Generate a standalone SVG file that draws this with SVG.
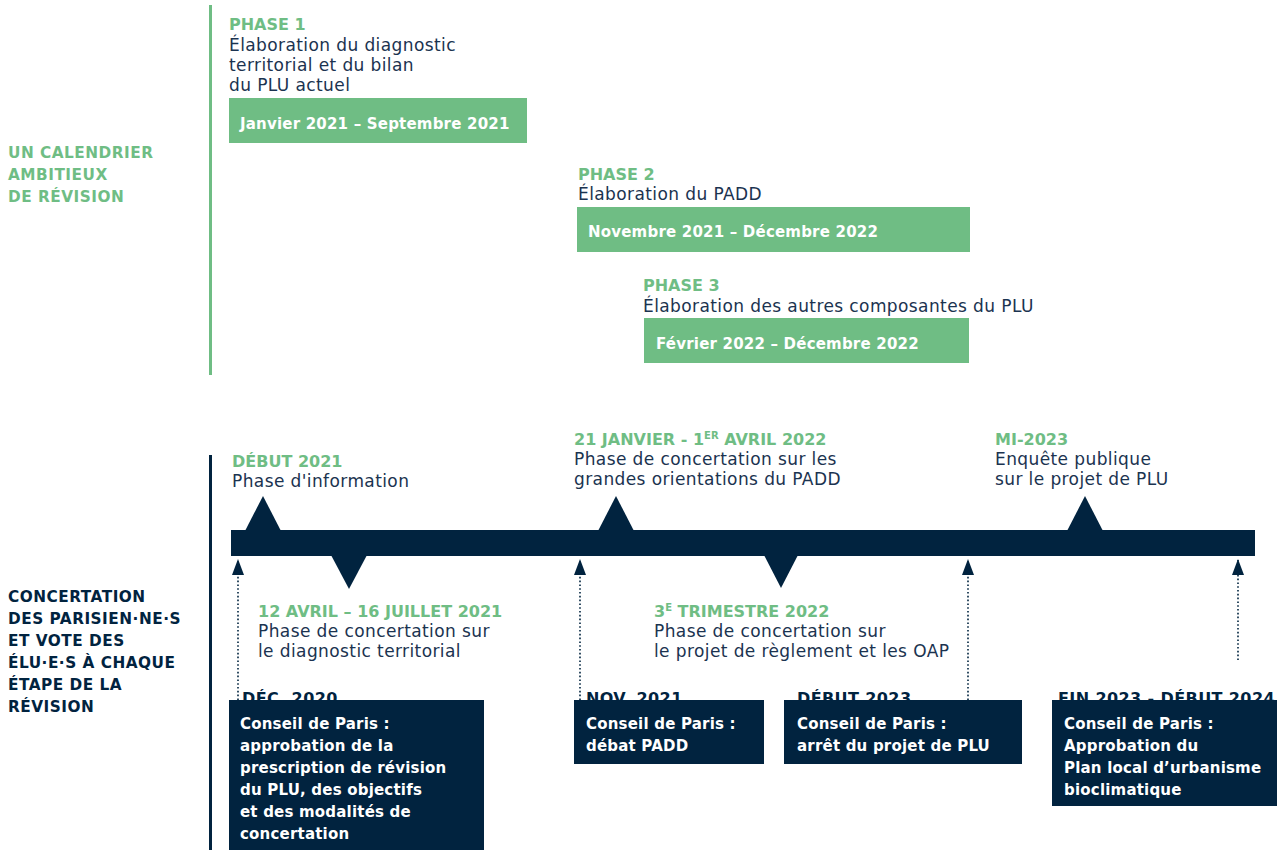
<svg xmlns="http://www.w3.org/2000/svg" width="1277" height="850" viewBox="0 0 1277 850">
<defs>
<style>
text{font-family:"DejaVu Sans","Liberation Sans",sans-serif;}
.sec{font-size:15.3px;font-weight:bold;letter-spacing:0.5px;}
.g{fill:#6fbd84;}
.n{fill:#01233f;}
.hd{font-size:16px;font-weight:bold;fill:#6fbd84;}
.bd{font-size:17px;fill:#1b3350;letter-spacing:0.4px;}
.wt{font-size:15px;font-weight:bold;fill:#ffffff;letter-spacing:0.2px;}
.nb{font-size:16px;font-weight:bold;fill:#01233f;letter-spacing:0.4px;}
.gbox{fill:#6fbd84;}
.nbox{fill:#01233f;}
.dot{stroke:#01233f;stroke-width:1.6;stroke-dasharray:1.6 2.2;fill:none;}
</style>
<marker id="ah" viewBox="0 0 16 12" refX="15" refY="6" markerWidth="16" markerHeight="12" markerUnits="userSpaceOnUse" orient="auto">
<path d="M0,0 L16,6 L0,12 Z" fill="#01233f"/>
</marker>
</defs>
<rect width="1277" height="850" fill="#ffffff"/>

<g id="section-calendrier">
<line x1="210.5" y1="5" x2="210.5" y2="375" stroke="#6fbd84" stroke-width="3"/>
<text class="sec g" x="8" y="158">UN CALENDRIER</text>
<text class="sec g" x="8" y="180">AMBITIEUX</text>
<text class="sec g" x="8" y="202">DE RÉVISION</text>
</g>

<g id="phase1">
<text class="hd" x="229" y="30">PHASE 1</text>
<text class="bd" x="229" y="51">Élaboration du diagnostic</text>
<text class="bd" x="229" y="71">territorial et du bilan</text>
<text class="bd" x="229" y="91">du PLU actuel</text>
<rect class="gbox" x="229" y="98" width="298" height="45"/>
<text class="wt" x="240" y="129">Janvier 2021 – Septembre 2021</text>
</g>

<g id="phase2">
<text class="hd" x="578" y="180">PHASE 2</text>
<text class="bd" x="578" y="200">Élaboration du PADD</text>
<rect class="gbox" x="577" y="207" width="393" height="45"/>
<text class="wt" x="588" y="237">Novembre 2021 – Décembre 2022</text>
</g>

<g id="phase3">
<text class="hd" x="643" y="291">PHASE 3</text>
<text class="bd" x="643" y="312">Élaboration des autres composantes du PLU</text>
<rect class="gbox" x="644" y="318" width="325" height="45"/>
<text class="wt" x="656" y="349">Février 2022 – Décembre 2022</text>
</g>

<g id="section-concertation">
<line x1="210.5" y1="455" x2="210.5" y2="850" stroke="#01233f" stroke-width="3"/>
<text class="sec n" x="8" y="602">CONCERTATION</text>
<text class="sec n" x="8" y="624">DES PARISIEN·NE·S</text>
<text class="sec n" x="8" y="646">ET VOTE DES</text>
<text class="sec n" x="8" y="668">ÉLU·E·S À CHAQUE</text>
<text class="sec n" x="8" y="690">ÉTAPE DE LA</text>
<text class="sec n" x="8" y="712">RÉVISION</text>
</g>

<g id="timeline">
<rect class="nbox" x="231" y="530" width="1024" height="26"/>
<path class="nbox" d="M245,531 L263,496 L281,531 Z"/>
<path class="nbox" d="M598,531 L616,496 L634,531 Z"/>
<path class="nbox" d="M1067,531 L1085,496 L1103,531 Z"/>
<path class="nbox" d="M331,555 L349,589 L367,555 Z"/>
<path class="nbox" d="M764,555 L781,588 L798,555 Z"/>
</g>

<g id="connectors">
<line class="dot" x1="238" y1="700" x2="238" y2="560" marker-end="url(#ah)"/>
<line class="dot" x1="580" y1="700" x2="580" y2="560" marker-end="url(#ah)"/>
<line class="dot" x1="968" y1="700" x2="968" y2="560" marker-end="url(#ah)"/>
<line class="dot" x1="1238" y1="660" x2="1238" y2="560" marker-end="url(#ah)"/>
</g>

<g id="event-debut2021">
<text class="hd" x="232" y="467">DÉBUT 2021</text>
<text class="bd" x="232" y="487">Phase d'information</text>
</g>

<g id="event-janvier2022">
<text class="hd" x="574" y="445">21 JANVIER - 1<tspan font-size="10" dy="-6">ER</tspan><tspan dy="6"> AVRIL 2022</tspan></text>
<text class="bd" x="574" y="465">Phase de concertation sur les</text>
<text class="bd" x="574" y="485">grandes orientations du PADD</text>
</g>

<g id="event-mi2023">
<text class="hd" x="995" y="445">MI-2023</text>
<text class="bd" x="995" y="465">Enquête publique</text>
<text class="bd" x="995" y="485">sur le projet de PLU</text>
</g>

<g id="event-avril2021">
<text class="hd" x="258" y="617">12 AVRIL – 16 JUILLET 2021</text>
<text class="bd" x="258" y="637">Phase de concertation sur</text>
<text class="bd" x="258" y="657">le diagnostic territorial</text>
</g>

<g id="event-trimestre2022">
<text class="hd" x="654" y="617">3<tspan font-size="10" dy="-6">E</tspan><tspan dy="6"> TRIMESTRE 2022</tspan></text>
<text class="bd" x="654" y="637">Phase de concertation sur</text>
<text class="bd" x="654" y="657">le projet de règlement et les OAP</text>
</g>

<g id="conseil-dec2020">
<text class="nb" x="242" y="704">DÉC. 2020</text>
<rect class="nbox" x="229" y="700" width="255" height="150"/>
<text class="wt" x="240" y="729">Conseil de Paris :</text>
<text class="wt" x="240" y="751">approbation de la</text>
<text class="wt" x="240" y="773">prescription de révision</text>
<text class="wt" x="240" y="795">du PLU, des objectifs</text>
<text class="wt" x="240" y="817">et des modalités de</text>
<text class="wt" x="240" y="839">concertation</text>
</g>

<g id="conseil-nov2021">
<text class="nb" x="586" y="704">NOV. 2021</text>
<rect class="nbox" x="574" y="700" width="190" height="64"/>
<text class="wt" x="586" y="729">Conseil de Paris :</text>
<text class="wt" x="586" y="751">débat PADD</text>
</g>

<g id="conseil-debut2023">
<text class="nb" x="797" y="704">DÉBUT 2023</text>
<rect class="nbox" x="784" y="700" width="238" height="64"/>
<text class="wt" x="797" y="729">Conseil de Paris :</text>
<text class="wt" x="797" y="751">arrêt du projet de PLU</text>
</g>

<g id="conseil-fin2023">
<text class="nb" x="1058" y="704">FIN 2023 - DÉBUT 2024</text>
<rect class="nbox" x="1052" y="700" width="225" height="106"/>
<text class="wt" x="1064" y="729">Conseil de Paris :</text>
<text class="wt" x="1064" y="751">Approbation du</text>
<text class="wt" x="1064" y="773">Plan local d’urbanisme</text>
<text class="wt" x="1064" y="795">bioclimatique</text>
</g>
</svg>
